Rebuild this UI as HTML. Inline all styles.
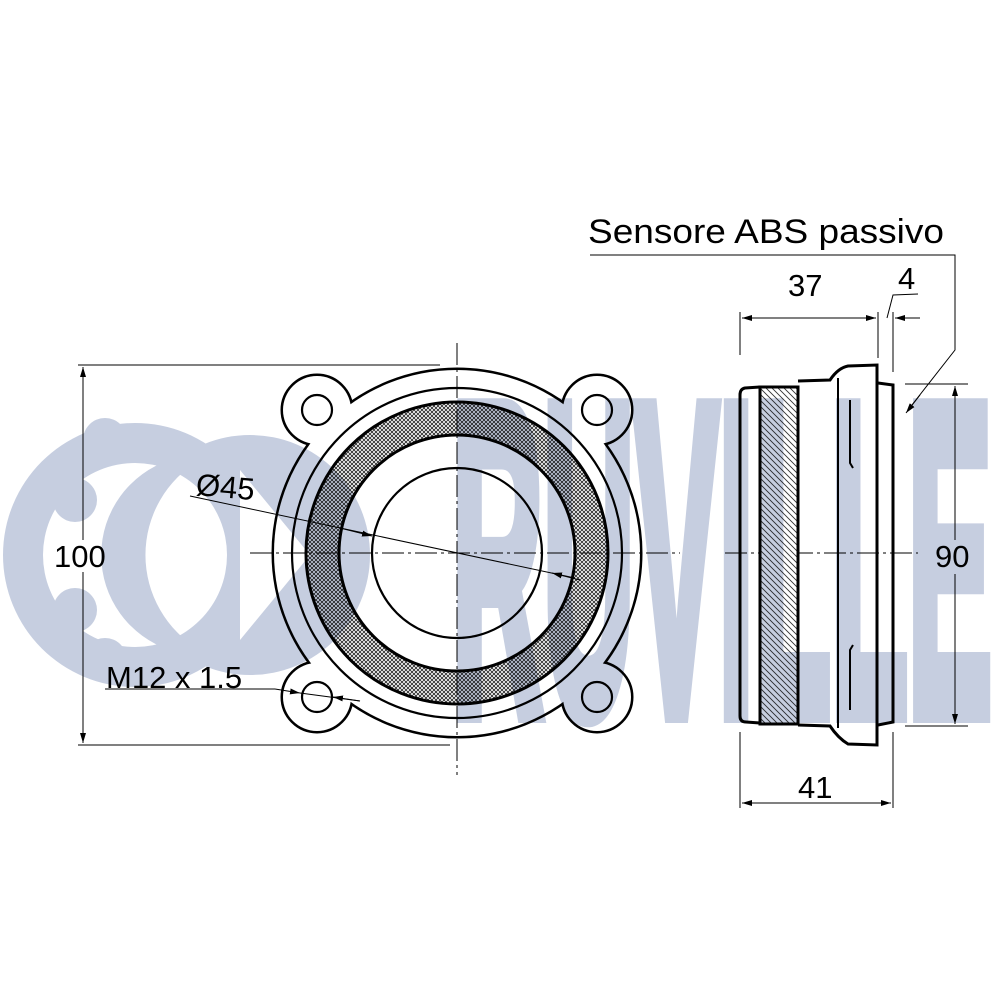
<!DOCTYPE html>
<html><head><style>html,body{margin:0;padding:0;background:#fff}svg{display:block}</style></head><body>
<svg width="1000" height="1000" viewBox="0 0 1000 1000" xmlns="http://www.w3.org/2000/svg" font-family="Liberation Sans, sans-serif">
<defs>
<pattern id="xh" width="4" height="4" patternUnits="userSpaceOnUse"><rect width="4" height="4" fill="#fff"/><path d="M0 0L4 4M4 0L0 4" stroke="#222" stroke-width="0.8"/></pattern>
<pattern id="dh" width="6" height="6" patternUnits="userSpaceOnUse"><rect width="6" height="6" fill="#fff"/><path d="M-1 -1L7 7M-1 5L1 7M5 -1L7 1" stroke="#333" stroke-width="0.9"/></pattern>
<marker id="a" viewBox="0 0 10 6" refX="10" refY="3" markerWidth="10" markerHeight="6" orient="auto-start-reverse" markerUnits="userSpaceOnUse"><path d="M0 0L10 3L0 6z" fill="#000"/></marker>
</defs>

<g fill="none" stroke="#000" stroke-width="2.2">
<g stroke-width="5">
<circle cx="457" cy="553" r="183"/>
<circle cx="317" cy="410" r="34"/><circle cx="597" cy="410" r="34"/><circle cx="317" cy="697" r="34"/><circle cx="597" cy="697" r="34"/>
</g>
<g fill="#fff" stroke="none">
<circle cx="457" cy="553" r="183"/>
<circle cx="317" cy="410" r="34"/><circle cx="597" cy="410" r="34"/><circle cx="317" cy="697" r="34"/><circle cx="597" cy="697" r="34"/>
</g>
<circle cx="457" cy="553" r="165"/>
<circle cx="457" cy="553" r="151" fill="url(#xh)" stroke-width="3"/>
<circle cx="457" cy="553" r="118" fill="#fff" stroke-width="3"/>
<circle cx="457" cy="553" r="85"/>
<circle cx="317" cy="410" r="15"/><circle cx="597" cy="410" r="15"/><circle cx="317" cy="697" r="15"/><circle cx="597" cy="697" r="15"/>
</g>
<g stroke="#000" stroke-width="1" stroke-dasharray="22,4,3,4">
<line x1="250" y1="553" x2="680" y2="553"/>
<line x1="457" y1="343" x2="457" y2="775"/>
<line x1="725" y1="553" x2="918" y2="553"/>
</g>
<g stroke="#000" stroke-width="1" fill="none">
<line x1="78" y1="365" x2="440" y2="365"/>
<line x1="78" y1="745" x2="450" y2="745"/>
<line x1="83" y1="367" x2="83" y2="540" marker-start="url(#a)"/>
<line x1="83" y1="572" x2="83" y2="743" marker-end="url(#a)"/>
<line x1="190" y1="496" x2="575" y2="578"/>
<line x1="340" y1="528" x2="372" y2="536" marker-end="url(#a)"/>
<line x1="580" y1="580" x2="552" y2="573" marker-end="url(#a)"/>
<polyline points="105,689 275,689"/>
<line x1="275" y1="689" x2="300" y2="693" marker-end="url(#a)"/>
<line x1="300" y1="693" x2="360" y2="701"/>
<line x1="360" y1="701" x2="333" y2="697" marker-end="url(#a)"/>
</g>
<g font-size="31" fill="#000">
<text x="54" y="567">100</text>
<text x="196" y="498" transform="rotate(5 230 488)">Ø45</text>
<text x="106" y="688">M12 x 1.5</text>
</g>
<g stroke="#000" stroke-width="3" fill="none">
<path d="M760 387 L745 388 Q740 389 740 395 L740 716 Q740 722 746 722 L760 723"/>
<rect x="760" y="387" width="38" height="337" fill="url(#dh)"/>
<path d="M798 381 L830 380 Q838 368 848 366 L877 365 L877 745 L848 744 Q838 738 830 726 L798 725"/>
<line x1="838" y1="378" x2="838" y2="728" stroke-width="2"/>
<path d="M878 383 L893 385 L893 722 L878 725"/>
<path d="M850 400 L850 463 L853 468" stroke-width="2"/>
<path d="M850 710 L850 650 L853 645" stroke-width="2"/>
</g>
<g stroke="#000" stroke-width="1" fill="none">
<line x1="740" y1="312" x2="740" y2="355"/>
<line x1="878" y1="312" x2="878" y2="358"/>
<line x1="893" y1="312" x2="893" y2="372"/>
<line x1="742" y1="318" x2="876" y2="318" marker-start="url(#a)" marker-end="url(#a)"/>
<line x1="920" y1="318" x2="895" y2="318" marker-end="url(#a)"/>
<polyline points="887,318 893,295 918,294"/>
<polyline points="590,255 955,255 955,350 908,410"/>
<line x1="920" y1="395" x2="906" y2="413" marker-end="url(#a)"/>
<line x1="905" y1="384" x2="968" y2="384"/>
<line x1="905" y1="726" x2="968" y2="726"/>
<line x1="955" y1="386" x2="955" y2="540" marker-start="url(#a)"/>
<line x1="955" y1="574" x2="955" y2="724" marker-end="url(#a)"/>
<line x1="740" y1="732" x2="740" y2="808"/>
<line x1="893" y1="732" x2="893" y2="808"/>
<line x1="742" y1="803" x2="891" y2="803" marker-start="url(#a)" marker-end="url(#a)"/>
</g>
<g font-size="31" fill="#000">
<text x="588" y="243" font-size="34" textLength="356" lengthAdjust="spacingAndGlyphs">Sensore ABS passivo</text>
<text x="788" y="296">37</text>
<text x="898" y="289">4</text>
<text x="935" y="567">90</text>
<text x="798" y="798">41</text>
</g>

<g style="mix-blend-mode:multiply">
<g fill="#c6cee0">
<circle cx="135" cy="555" r="132"/>
<circle cx="250" cy="555" r="120"/>
</g>
<circle cx="135" cy="555" r="92" fill="#fff"/>
<g fill="#c6cee0">
<circle cx="105" cy="440" r="22"/><circle cx="75" cy="500" r="22"/><circle cx="75" cy="610" r="22"/><circle cx="105" cy="660" r="22"/>
<path d="M170 460 A100 100 0 0 0 170 650 L200 650 A110 110 0 0 1 200 460 Z"/>
</g>
<path d="M240 470 L310 555 L240 640 Z" fill="#fff"/>
<text x="452" y="712" font-size="440" font-weight="bold" fill="#c6cee0" stroke="#c6cee0" stroke-width="22" stroke-linejoin="miter" textLength="540" lengthAdjust="spacingAndGlyphs">RUVILLE</text>
</g>
</svg>
</body></html>
